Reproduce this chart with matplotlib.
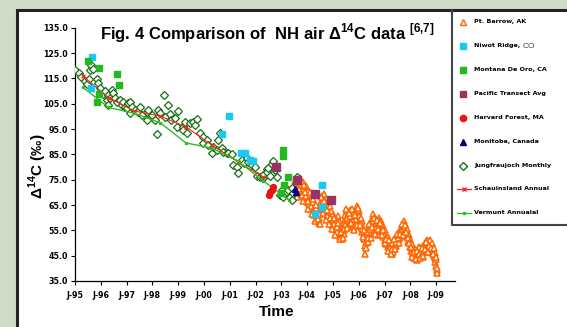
import matplotlib
matplotlib.use("Agg")
import matplotlib.pyplot as plt
from matplotlib.patches import Rectangle

plt.rcParams['mathtext.fontset'] = 'custom'
plt.rcParams['mathtext.rm'] = 'Liberation Sans'
plt.rcParams['mathtext.bf'] = 'Liberation Sans:bold'

# ---- data (decimal year, D14C permil) ----
barrow = [
    (2003.52, 74.5), (2003.56, 72.5), (2003.60, 73.5), (2003.63, 70.5), (2003.66, 75.0), (2003.70, 71.5),
    (2003.73, 68.5), (2003.76, 73.0), (2003.80, 70.0), (2003.83, 74.0), (2003.86, 67.5), (2003.89, 71.5),
    (2003.92, 69.0), (2003.95, 72.5), (2003.98, 66.0), (2004.01, 68.5), (2004.04, 70.5), (2004.07, 65.5),
    (2004.10, 67.5), (2004.13, 63.5), (2004.16, 66.5), (2004.19, 68.5), (2004.22, 62.5), (2004.25, 64.5),
    (2004.28, 61.0), (2004.31, 63.5), (2004.34, 59.5), (2004.37, 61.5), (2004.40, 58.5), (2004.43, 62.0),
    (2004.46, 60.0), (2004.49, 64.0), (2004.52, 66.0), (2004.55, 63.0), (2004.58, 68.5), (2004.61, 65.0),
    (2004.64, 69.5), (2004.67, 64.0), (2004.70, 66.5), (2004.73, 62.5), (2004.76, 65.5), (2004.79, 61.0),
    (2004.82, 63.5), (2004.85, 59.5), (2004.88, 62.0), (2004.91, 58.0), (2004.94, 60.5), (2004.97, 57.0),
    (2005.00, 61.5), (2005.03, 58.5), (2005.06, 55.5), (2005.09, 57.5), (2005.12, 54.0), (2005.15, 59.0),
    (2005.18, 56.0), (2005.21, 60.5), (2005.24, 57.0), (2005.27, 53.5), (2005.30, 55.5), (2005.33, 51.5),
    (2005.36, 54.0), (2005.39, 57.5), (2005.42, 55.0), (2005.45, 59.5), (2005.48, 61.0), (2005.51, 58.0),
    (2005.54, 62.5), (2005.57, 59.0), (2005.60, 61.5), (2005.63, 57.0), (2005.66, 63.0), (2005.69, 60.0),
    (2005.72, 58.5), (2005.75, 62.0), (2005.78, 59.5), (2005.81, 56.5), (2005.84, 60.5), (2005.87, 58.0),
    (2005.90, 62.5), (2005.93, 64.5), (2005.96, 61.0), (2005.99, 58.5), (2006.02, 62.5), (2006.05, 60.0),
    (2006.08, 56.5), (2006.11, 58.5), (2006.14, 54.5), (2006.17, 56.0), (2006.20, 51.5), (2006.24, 45.5),
    (2006.26, 50.0), (2006.29, 53.0), (2006.32, 51.0), (2006.35, 55.0), (2006.38, 52.5), (2006.41, 56.5),
    (2006.44, 54.0), (2006.47, 58.0), (2006.50, 55.5), (2006.53, 59.5), (2006.56, 61.5), (2006.59, 57.5),
    (2006.62, 55.0), (2006.65, 58.0), (2006.68, 54.5), (2006.71, 56.5), (2006.74, 53.0), (2006.77, 57.0),
    (2006.80, 60.0), (2006.83, 56.5), (2006.86, 58.5), (2006.89, 54.5), (2006.92, 56.0), (2006.95, 52.5),
    (2006.98, 54.5), (2007.01, 51.0), (2007.04, 53.5), (2007.07, 49.5), (2007.10, 52.0), (2007.13, 48.5),
    (2007.16, 50.5), (2007.19, 47.5), (2007.22, 49.0), (2007.25, 47.0), (2007.28, 45.5), (2007.31, 48.5),
    (2007.34, 50.0), (2007.37, 47.5), (2007.40, 51.0), (2007.43, 49.0), (2007.46, 52.5), (2007.49, 50.0),
    (2007.52, 53.5), (2007.55, 51.5), (2007.58, 55.0), (2007.61, 52.5), (2007.64, 56.0), (2007.67, 53.5),
    (2007.70, 57.0), (2007.73, 55.0), (2007.76, 58.5), (2007.79, 54.0), (2007.82, 56.0), (2007.85, 52.5),
    (2007.88, 54.0), (2007.91, 50.5), (2007.94, 52.0), (2007.97, 48.5), (2008.00, 50.5), (2008.03, 47.0),
    (2008.06, 48.5), (2008.09, 45.5), (2008.12, 47.5), (2008.15, 44.0), (2008.18, 46.0), (2008.21, 44.5),
    (2008.24, 43.3), (2008.27, 45.5), (2008.30, 47.5), (2008.33, 44.5), (2008.36, 46.5), (2008.39, 48.0),
    (2008.42, 45.0), (2008.45, 47.5), (2008.48, 49.0), (2008.51, 46.5), (2008.54, 48.5), (2008.57, 50.0),
    (2008.60, 47.5), (2008.63, 49.5), (2008.66, 51.0), (2008.69, 48.5), (2008.72, 50.5), (2008.75, 47.5),
    (2008.78, 49.5), (2008.81, 46.5), (2008.84, 48.5), (2008.87, 47.0), (2008.90, 45.0), (2008.93, 46.5),
    (2008.95, 44.0), (2008.97, 42.5), (2009.00, 41.0), (2009.02, 39.5), (2009.04, 38.3),
    # second flask of each pair
    (2003.58, 70.0), (2003.68, 73.5), (2003.78, 69.0), (2003.88, 73.0), (2003.97, 68.5), (2004.03, 66.5),
    (2004.09, 69.5), (2004.15, 64.5), (2004.21, 66.0), (2004.27, 62.5), (2004.33, 64.0), (2004.39, 60.5),
    (2004.45, 58.0), (2004.51, 61.5), (2004.57, 65.5), (2004.63, 67.0), (2004.69, 63.0), (2004.75, 60.5),
    (2004.81, 64.5), (2004.87, 60.0), (2004.93, 62.5), (2004.99, 59.0), (2005.05, 57.5), (2005.11, 59.5),
    (2005.17, 54.5), (2005.23, 58.5), (2005.29, 52.5), (2005.35, 56.0), (2005.41, 53.5), (2005.47, 57.0),
    (2005.53, 60.0), (2005.59, 56.5), (2005.65, 60.5), (2005.71, 62.5), (2005.77, 57.5), (2005.83, 62.0),
    (2005.89, 59.5), (2005.95, 63.0), (2006.01, 60.5), (2006.07, 58.0), (2006.13, 55.5), (2006.19, 53.5),
    (2006.25, 49.0), (2006.31, 54.5), (2006.37, 50.5), (2006.43, 55.5), (2006.49, 57.0), (2006.55, 58.5),
    (2006.61, 60.0), (2006.67, 56.0), (2006.73, 55.5), (2006.79, 58.5), (2006.85, 55.0), (2006.91, 57.5),
    (2006.97, 53.0), (2007.03, 55.0), (2007.09, 50.5), (2007.15, 52.5), (2007.21, 48.0), (2007.27, 50.0),
    (2007.33, 46.5), (2007.39, 49.0), (2007.45, 50.5), (2007.51, 52.0), (2007.57, 53.0), (2007.63, 54.5),
    (2007.69, 55.5), (2007.75, 56.5), (2007.81, 57.5), (2007.87, 55.5), (2007.93, 53.0), (2007.99, 51.5),
    (2008.05, 49.5), (2008.11, 46.0), (2008.17, 47.5), (2008.23, 45.0), (2008.29, 44.0), (2008.35, 48.5),
    (2008.41, 46.5), (2008.47, 44.5), (2008.53, 47.0), (2008.59, 49.0), (2008.65, 47.0), (2008.71, 49.5),
    (2008.77, 51.0), (2008.83, 50.0), (2008.89, 47.5), (2008.94, 46.0), (2008.99, 43.5), (2009.03, 40.0),
    # third sampling line
    (2003.62, 68.0), (2003.72, 75.5), (2003.82, 66.5), (2003.93, 70.0), (2004.05, 63.5), (2004.12, 70.0),
    (2004.18, 61.5), (2004.24, 67.5), (2004.30, 58.5), (2004.36, 65.0), (2004.42, 59.5), (2004.48, 57.5),
    (2004.54, 68.0), (2004.60, 62.0), (2004.66, 66.5), (2004.72, 59.0), (2004.78, 63.0), (2004.84, 57.5),
    (2004.90, 64.5), (2004.96, 55.5), (2005.02, 60.0), (2005.08, 53.0), (2005.14, 56.5), (2005.20, 58.0),
    (2005.26, 51.5), (2005.32, 54.5), (2005.38, 52.0), (2005.44, 55.5), (2005.50, 63.5), (2005.56, 56.0),
    (2005.62, 62.0), (2005.68, 58.0), (2005.74, 63.5), (2005.80, 55.0), (2005.86, 61.0), (2005.92, 57.0),
    (2005.98, 64.0), (2006.04, 57.0), (2006.10, 60.0), (2006.16, 52.5), (2006.22, 55.0), (2006.28, 48.0),
    (2006.34, 52.0), (2006.40, 57.5), (2006.46, 52.0), (2006.52, 56.5), (2006.58, 60.0), (2006.64, 53.5),
    (2006.70, 59.0), (2006.76, 55.5), (2006.82, 58.0), (2006.88, 53.0), (2006.94, 55.0), (2007.00, 50.0),
    (2007.06, 51.5), (2007.12, 47.0), (2007.18, 51.0), (2007.24, 45.5), (2007.30, 47.5), (2007.36, 51.5),
    (2007.42, 47.5), (2007.48, 53.5), (2007.54, 50.0), (2007.60, 53.5), (2007.66, 57.5), (2007.72, 53.0),
    (2007.78, 57.0), (2007.84, 54.5), (2007.90, 52.0), (2007.96, 50.0), (2008.02, 48.5), (2008.08, 44.5),
    (2008.14, 46.5), (2008.20, 43.5), (2008.26, 47.0), (2008.32, 45.5), (2008.38, 44.0), (2008.44, 48.0),
    (2008.50, 45.0), (2008.56, 47.5), (2008.62, 50.5), (2008.68, 46.5), (2008.74, 49.0), (2008.80, 48.0),
    (2008.86, 45.5), (2008.92, 48.0), (2008.98, 44.5),
]

niwot = [(1995.62, 111.3), (1995.67, 123.6), (2000.68, 92.9), (2000.96, 100.2), (2001.43, 85.4),
         (2001.59, 85.7), (2001.78, 82.8), (2001.88, 82.3), (2004.30, 61.4), (2004.56, 64.2), (2004.56, 72.9)]

montana = [(1995.52, 122.0), (1995.94, 119.2), (1996.64, 116.6), (1996.69, 112.4), (1995.94, 108.7),
           (1995.86, 105.8), (2003.05, 86.6), (2003.05, 84.4), (2003.27, 76.2), (2003.10, 72.9), (2002.97, 69.8)]

pacific = [(2002.78, 80.0), (2003.60, 74.9), (2004.31, 69.5), (2004.93, 67.0)]

harvard = [(2002.50, 69.0), (2002.56, 70.0), (2002.62, 71.0), (2002.68, 72.0)]

manitoba = [(2003.52, 71.5), (2003.58, 70.3)]

jungfraujoch = [
    (1995.00, 118.3), (1995.17, 117.0), (1995.23, 115.7), (1995.39, 114.0), (1995.45, 112.7), (1995.54, 114.7),
    (1995.58, 118.3), (1995.61, 120.3), (1995.71, 118.7), (1995.84, 114.7), (1995.90, 113.1), (1995.97, 111.1),
    (1996.10, 108.7), (1996.16, 110.0), (1996.23, 106.5), (1996.29, 108.4), (1996.29, 104.5), (1996.36, 107.4),
    (1996.42, 110.4), (1996.48, 109.1), (1996.55, 107.1), (1996.61, 105.8), (1996.74, 106.5), (1996.81, 104.5),
    (1996.87, 105.8), (1996.94, 103.8), (1997.00, 103.2), (1997.07, 105.2), (1997.13, 105.8), (1997.13, 101.2),
    (1997.19, 103.8), (1997.33, 102.5), (1997.45, 101.8), (1997.52, 103.8), (1997.59, 100.5), (1997.78, 101.8),
    (1997.84, 102.5), (1997.78, 98.6), (1997.97, 100.5), (1998.10, 98.6), (1998.19, 93.0), (1998.23, 102.5),
    (1998.29, 101.2), (1998.46, 108.3), (1998.49, 99.9), (1998.62, 104.5), (1998.68, 100.8), (1998.74, 98.6),
    (1998.88, 99.2), (1998.94, 95.9), (1999.00, 102.0), (1999.20, 95.9), (1999.20, 94.6), (1999.26, 97.9),
    (1999.33, 93.3), (1999.46, 97.3), (1999.58, 97.9), (1999.65, 96.6), (1999.71, 99.0), (1999.84, 93.3),
    (1999.97, 92.0), (1999.97, 89.4), (2000.10, 90.7), (2000.17, 88.7), (2000.30, 85.4), (2000.36, 88.0),
    (2000.49, 86.7), (2000.55, 90.7), (2000.62, 93.3), (2000.68, 87.4), (2000.75, 86.1), (2000.88, 85.4),
    (2000.94, 85.7), (2001.07, 85.1), (2001.13, 80.8), (2001.26, 79.9), (2001.33, 77.8), (2001.46, 82.8),
    (2001.55, 81.5), (2001.65, 83.4), (2001.72, 82.1), (2001.85, 80.8), (2001.98, 80.1), (2002.04, 76.5),
    (2002.17, 75.9), (2002.30, 75.5), (2002.30, 76.8), (2002.43, 79.1), (2002.43, 78.2), (2002.49, 79.5),
    (2002.56, 76.5), (2002.62, 81.2), (2002.68, 82.3), (2002.75, 78.8), (2002.82, 76.0), (2002.95, 69.0),
    (2003.01, 71.0), (2003.07, 68.3), (2003.14, 69.6), (2003.20, 70.0), (2003.27, 71.0), (2003.33, 68.3),
    (2003.40, 71.6), (2003.40, 67.0), (2003.46, 69.6), (2003.59, 76.2),
]

schauinsland_t = [1995.3, 1996.3, 1997.3, 1998.3, 1999.3, 2000.3, 2001.3, 2002.3]
schauinsland_v = [116.0, 107.4, 102.1, 100.1, 95.9, 88.7, 82.1, 76.0]

vermunt_t = [1995.3, 1996.3, 1997.3, 1998.3, 1999.3, 2000.3, 2001.3, 2002.3, 2003.3]
vermunt_v = [111.5, 103.5, 101.2, 97.5, 89.5, 87.5, 82.5, 74.5, 67.0]

year_ticks = list(range(1995, 2010))
tick_labels = ["J-%02d" % (y % 100) for y in year_ticks]
y_ticks = list(range(35, 136, 10))

W, H = 567, 327
fig = plt.figure(figsize=(W / 100, H / 100), dpi=100)
fig.patch.set_facecolor('#cfdcc8')

# white panel with dark border
fig.patches.append(Rectangle((17 / W, -0.1), 1.2, (H - 10) / H + 0.1, transform=fig.transFigure,
                             facecolor='white', edgecolor='#222222', linewidth=2.2, zorder=-10))

ax = fig.add_axes([75 / W, (H - 281) / H, 380 / W, 253.3 / H])
ax.set_facecolor('none')

def xy(pairs):
    return [p[0] for p in pairs], [p[1] for p in pairs]

bt, bv = xy(barrow)
ax.plot(bt, bv, linestyle='none', marker='^', markersize=5.0, markerfacecolor='white',
        markeredgecolor='#ff6600', markeredgewidth=1.1, zorder=2)
jt, jv = xy(jungfraujoch)
ax.plot(jt, jv, linestyle='none', marker='D', markersize=3.8, markerfacecolor='white',
        markeredgecolor='#167016', markeredgewidth=0.9, zorder=3)
ax.plot(schauinsland_t, schauinsland_v, color='#ff2020', linewidth=0.8, marker='x',
        markersize=3, markeredgewidth=0.9, zorder=4)
ax.plot(vermunt_t, vermunt_v, color='#33bb22', linewidth=1.0, marker='s',
        markersize=1.6, zorder=4)
nt, nv = xy(niwot)
ax.plot(nt, nv, linestyle='none', marker='s', markersize=4.6, color='#19c8f5', zorder=5)
mt, mv = xy(montana)
ax.plot(mt, mv, linestyle='none', marker='s', markersize=4.8, color='#22b822', zorder=5)
pt, pv = xy(pacific)
ax.plot(pt, pv, linestyle='none', marker='s', markersize=5.6, color='#993366', zorder=5)
ht, hv = xy(harvard)
ax.plot(ht, hv, linestyle='none', marker='o', markersize=4.2, color='#ee1111', zorder=5)
at, av = xy(manitoba)
ax.plot(at, av, linestyle='none', marker='^', markersize=4.2, color='#000080', zorder=5)

ax.set_xlim(1995, 1995 + 380 / 25.8)
ax.set_ylim(35, 135)
ax.set_xticks(year_ticks)
ax.set_xticklabels(tick_labels)
ax.set_yticks(y_ticks)
ax.set_yticklabels(["%.1f" % v for v in y_ticks])
for s in ['top', 'right']:
    ax.spines[s].set_visible(False)
for s in ['left', 'bottom']:
    ax.spines[s].set_color('black')
    ax.spines[s].set_linewidth(0.9)
ax.tick_params(direction='out', length=3, width=0.8, pad=2)
ax.tick_params(axis='x', pad=4)
for lab in ax.get_xticklabels() + ax.get_yticklabels():
    lab.set_fontfamily('DejaVu Sans')
    lab.set_fontweight('bold')
    lab.set_fontsize(5.7)

fig.text(267 / W, 1 - 33 / H,
         r'Fig. 4 Comparison of  NH air Δ$^{\mathbf{14}}$C data $^{\mathbf{[6{,}7]}}$',
         ha='center', va='center', fontsize=12, fontweight='bold', family='Liberation Sans')
fig.text(38 / W, 1 - 166 / H, r'Δ$^{\mathbf{14}}$C (‰)', rotation=90, ha='center', va='center',
         fontsize=11, fontweight='bold', family='Liberation Sans')
fig.text(277 / W, 1 - 312 / H, 'Time', ha='center', va='center', fontsize=11,
         fontweight='bold', family='Liberation Sans')

# legend panel drawn in pixel space
lax = fig.add_axes([0, 0, 1, 1])
lax.set_xlim(0, W)
lax.set_ylim(H, 0)
lax.axis('off')
lax.plot([452, 452, W], [10, 225, 225], color='#444444', linewidth=1.5)

legend_items = [
    ('Pt. Barrow, AK', dict(marker='^', markerfacecolor='white', markeredgecolor='#ff6600', markersize=4.5, markeredgewidth=1)),
    ('Niwot Ridge,', dict(marker='s', color='#19c8f5', markersize=4.5)),
    ('Montana De Oro, CA', dict(marker='s', color='#22b822', markersize=4.5)),
    ('Pacific Transect Avg', dict(marker='s', color='#993366', markersize=4.5)),
    ('Harvard Forest, MA', dict(marker='o', color='#ee1111', markersize=4.5)),
    ('Monitoba, Canada', dict(marker='^', color='#000080', markersize=4.5)),
    ('Jungfraujoch Monthly', dict(marker='D', markerfacecolor='white', markeredgecolor='#167016', markersize=3.8, markeredgewidth=1)),
    ('Schauinsland Annual', dict(marker='x', color='#ff2020', markersize=3, linewidth=0.9)),
    ('Vermunt Annualal', dict(marker='s', color='#33bb22', markersize=1.6, linewidth=0.9)),
]
row_y = [22, 46, 70, 94, 118, 142, 166, 189, 213]
for (label, style), yy in zip(legend_items, row_y):
    if 'linewidth' in style:
        lax.plot([457, 471], [yy, yy], linestyle='-',
                 **{k: v for k, v in style.items() if not k.startswith('marker')})
        lax.plot([464], [yy], linestyle='none', **{k: v for k, v in style.items() if k != 'linewidth'})
    else:
        lax.plot([463], [yy], linestyle='none', **style)
    lax.text(474, yy, label, ha='left', va='center', fontsize=4.6, fontweight='bold', family='DejaVu Sans')
lax.text(523, 47, 'CO', ha='left', va='center', fontsize=6, color='#444444', family='Liberation Sans')

fig.savefig('out.png', dpi=100, facecolor=fig.get_facecolor())
